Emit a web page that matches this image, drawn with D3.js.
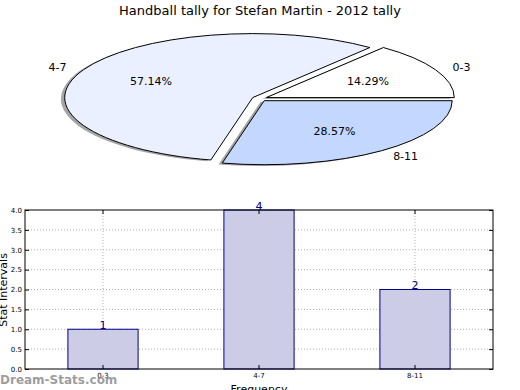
<!DOCTYPE html>
<html><head><meta charset="utf-8">
<script src="https://cdn.jsdelivr.net/npm/d3@7"></script>
<style>body{margin:0;background:#fff}svg{display:block;font-family:"DejaVu Sans",sans-serif}</style>
</head><body>
<svg id="c" width="520" height="390"></svg>
<script>
const title = "Handball tally for Stefan Martin - 2012 tally";
const categories = ["0-3", "4-7", "8-11"];
const counts = [1, 4, 2];
const pieColors = ["#ffffff", "#eaf0ff", "#c4d8ff"];
const yTicks = [0, 0.5, 1, 1.5, 2, 2.5, 3, 3.5, 4];
const xLabel = "Frequency";
const yLabel = "Stat Intervals";
const watermark = "Dream-Stats.com";

const svg = d3.select("#c");
const total = d3.sum(counts);

// Title
svg.append("text").attr("x", 260).attr("y", 15).attr("text-anchor", "middle")
  .attr("font-size", 13).text(title);

// ---- Pie ----
const cx = 259.5, cy = 98.7, rx = 188, ry = 64, explode = 0.04;
const pie = d3.pie().sort(null).value(d => d).startAngle(Math.PI / 2).endAngle(Math.PI / 2 - 2 * Math.PI);
const arcs = pie(counts);
const arcGen = d3.arc().innerRadius(0).outerRadius(1);
const pieG = svg.append("g");
function center(a) {
  const m = (a.startAngle + a.endAngle) / 2;
  return [cx + Math.sin(m) * explode * rx, cy - Math.cos(m) * explode * ry, m];
}
// shadows
arcs.forEach((a, i) => {
  const [x, y] = center(a);
  pieG.append("path").attr("d", arcGen(a))
    .attr("transform", `translate(${x - 0.02 * rx},${y + 0.02 * ry}) scale(${rx},${ry})`)
    .attr("fill", "rgb(76,76,76)").attr("fill-opacity", 0.5);
});
arcs.forEach((a, i) => {
  const [x, y, m] = center(a);
  pieG.append("path").attr("d", arcGen(a))
    .attr("transform", `translate(${x},${y}) scale(${rx},${ry})`)
    .attr("fill", pieColors[i]).attr("stroke", "#000").attr("stroke-width", 1)
    .attr("vector-effect", "non-scaling-stroke");
  const lx = x + Math.sin(m) * 1.1 * rx, ly = y - Math.cos(m) * 1.1 * ry;
  pieG.append("text").attr("x", lx).attr("y", ly).attr("dy", "0.35em")
    .attr("text-anchor", Math.sin(m) < 0 ? "end" : "start").attr("font-size", 11)
    .text(categories[i]);
  const px = x + Math.sin(m) * 0.6 * rx, py = y - Math.cos(m) * 0.6 * ry;
  pieG.append("text").attr("x", px).attr("y", py).attr("dy", "0.35em")
    .attr("text-anchor", "middle").attr("font-size", 11)
    .text((counts[i] / total * 100).toFixed(2) + "%");
});

// ---- Bar chart ----
const L = 25, R = 493, T = 210, B = 369;
const x = d3.scaleBand().domain(categories).range([L, R]).paddingInner(0.55).paddingOuter(0.275);
const y = d3.scaleLinear().domain([0, 4]).range([B, T]);
const g = svg.append("g");

// grid
g.selectAll(".hg").data(yTicks.slice(1, -1)).join("line")
  .attr("x1", L).attr("x2", R).attr("y1", d => y(d)).attr("y2", d => y(d))
  .attr("stroke", "#b0b0b0").attr("stroke-width", 1).attr("stroke-dasharray", "1,2");
g.selectAll(".vg").data(categories).join("line")
  .attr("x1", d => x(d) + x.bandwidth() / 2).attr("x2", d => x(d) + x.bandwidth() / 2)
  .attr("y1", T).attr("y2", B)
  .attr("stroke", "#b0b0b0").attr("stroke-width", 1).attr("stroke-dasharray", "1,2");

// bars
g.selectAll(".bar").data(counts).join("rect")
  .attr("x", (d, i) => x(categories[i])).attr("width", x.bandwidth())
  .attr("y", d => y(d)).attr("height", d => B - y(d))
  .attr("fill", "#ccccE6").attr("stroke", "#00008b").attr("stroke-width", 1);
g.selectAll(".vl").data(counts).join("text")
  .attr("x", (d, i) => x(categories[i]) + x.bandwidth() / 2).attr("y", d => y(d) - 0.5)
  .attr("text-anchor", "middle").attr("font-size", 11).attr("fill", "#000080").text(d => d);

// frame
g.append("rect").attr("x", L).attr("y", T).attr("width", R - L).attr("height", B - T)
  .attr("fill", "none").attr("stroke", "#000").attr("stroke-width", 1);

// y axis (left, inward ticks)
const yAx = d3.axisLeft(y).tickValues(yTicks).tickFormat(d3.format(".1f")).tickSizeInner(-4).tickSizeOuter(0).tickPadding(3);
const ya = g.append("g").attr("transform", `translate(${L},0)`).call(yAx);
ya.select(".domain").remove();
ya.selectAll("text").attr("font-size", 7).attr("font-family", "DejaVu Sans");
// right axis ticks
const yAxR = d3.axisRight(y).tickValues(yTicks).tickFormat("").tickSizeInner(-4).tickSizeOuter(0);
const yr = g.append("g").attr("transform", `translate(${R},0)`).call(yAxR);
yr.select(".domain").remove();
// x axis
const xAx = d3.axisBottom(x).tickSizeInner(-4).tickSizeOuter(0).tickPadding(4);
const xa = g.append("g").attr("transform", `translate(0,${B})`).call(xAx);
xa.select(".domain").remove();
xa.selectAll("text").attr("font-size", 7).attr("font-family", "DejaVu Sans");
const xAxT = d3.axisTop(x).tickFormat("").tickSizeInner(-4).tickSizeOuter(0);
const xt = g.append("g").attr("transform", `translate(0,${T})`).call(xAxT);
xt.select(".domain").remove();

// axis labels
svg.append("text").attr("x", 259).attr("y", 393).attr("text-anchor", "middle")
  .attr("font-size", 11).text(xLabel);
svg.append("text").attr("transform", "translate(7,290) rotate(-90)").attr("text-anchor", "middle")
  .attr("font-size", 11).text(yLabel);

// watermark
svg.append("text").attr("x", 0).attr("y", 384).attr("font-size", 12).attr("font-weight", "bold")
  .attr("fill", "#8c8c8c").attr("fill-opacity", 0.85).text(watermark);
</script>
</body></html>
